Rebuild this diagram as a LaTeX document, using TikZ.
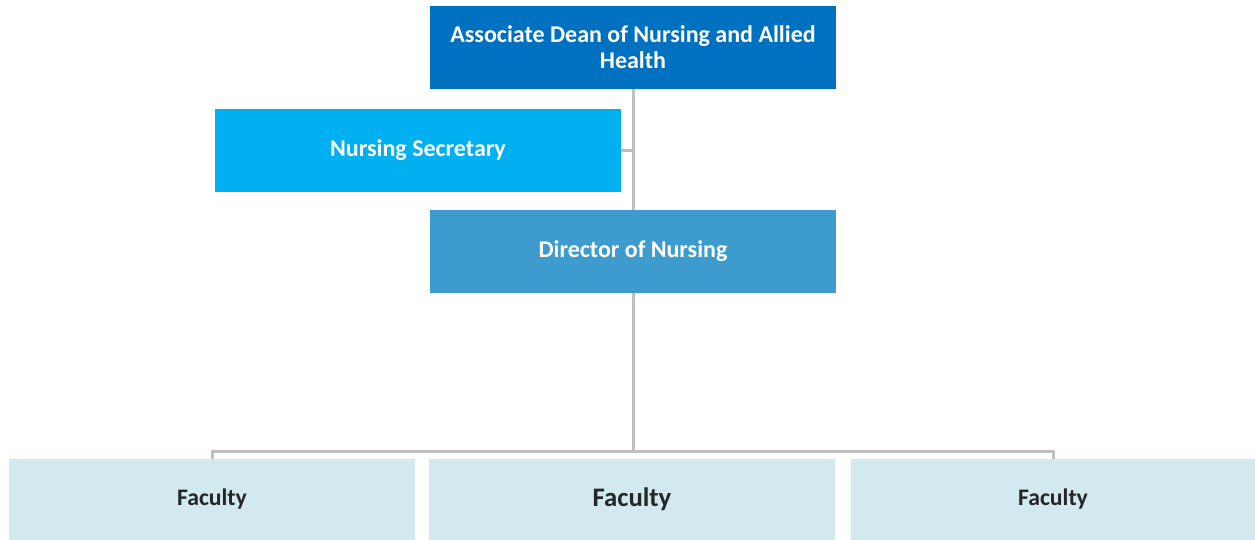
\documentclass[tikz,border=0pt]{standalone}
\usepackage{fontspec}
\setmainfont{Carlito}
\usetikzlibrary{backgrounds}
\definecolor{deanblue}{HTML}{0070C0}
\definecolor{secblue}{HTML}{00B0F0}
\definecolor{dirblue}{HTML}{3D9BCD}
\definecolor{facblue}{HTML}{D1E9EF}
\definecolor{linegray}{HTML}{BFBFBF}
\definecolor{textdark}{HTML}{262626}
\tikzset{
  box/.style={rectangle, inner sep=0pt, minimum width=406pt, minimum height=83pt, align=center, font=\bfseries\fontsize{24}{26}\selectfont},
  topbox/.style={box, fill=deanblue, text=white},
  secbox/.style={box, fill=secblue, text=white},
  dirbox/.style={box, fill=dirblue, text=white},
  facbox/.style={box, fill=facblue, text=textdark, minimum height=81pt, font=\bfseries\fontsize{23.7}{26}\selectfont},
  conn/.style={draw=linegray, line width=3pt}
}
\begin{document}
\begin{tikzpicture}[x=1pt,y=-1pt]
\useasboundingbox (0,0) rectangle (1255,540);
\node[topbox] (dean) at (633,47.5) {Associate Dean of Nursing and Allied\\Health};
\node[secbox] (sec) at (418,150.5) {Nursing Secretary};
\node[dirbox] (dir) at (633,251.5) {Director of Nursing};
\node[facbox] (f1) at (212,499.5) {Faculty};
\node[facbox, font=\bfseries\fontsize{26.7}{28}\selectfont] (f2) at (632,499.5) {Faculty};
\node[facbox, minimum width=404pt] (f3) at (1053,499.5) {Faculty};
\coordinate (bus) at (633,451);
\begin{scope}[on background layer]
\draw[conn] (dean.south) -- (dir.north);
\draw[conn] (sec.east) -- (sec.east -| dean.south);
\draw[conn] (dir.south) -- (bus);
\draw[conn] (f1.north) |- (bus) -| (f3.north);
\end{scope}
\end{tikzpicture}
\end{document}
